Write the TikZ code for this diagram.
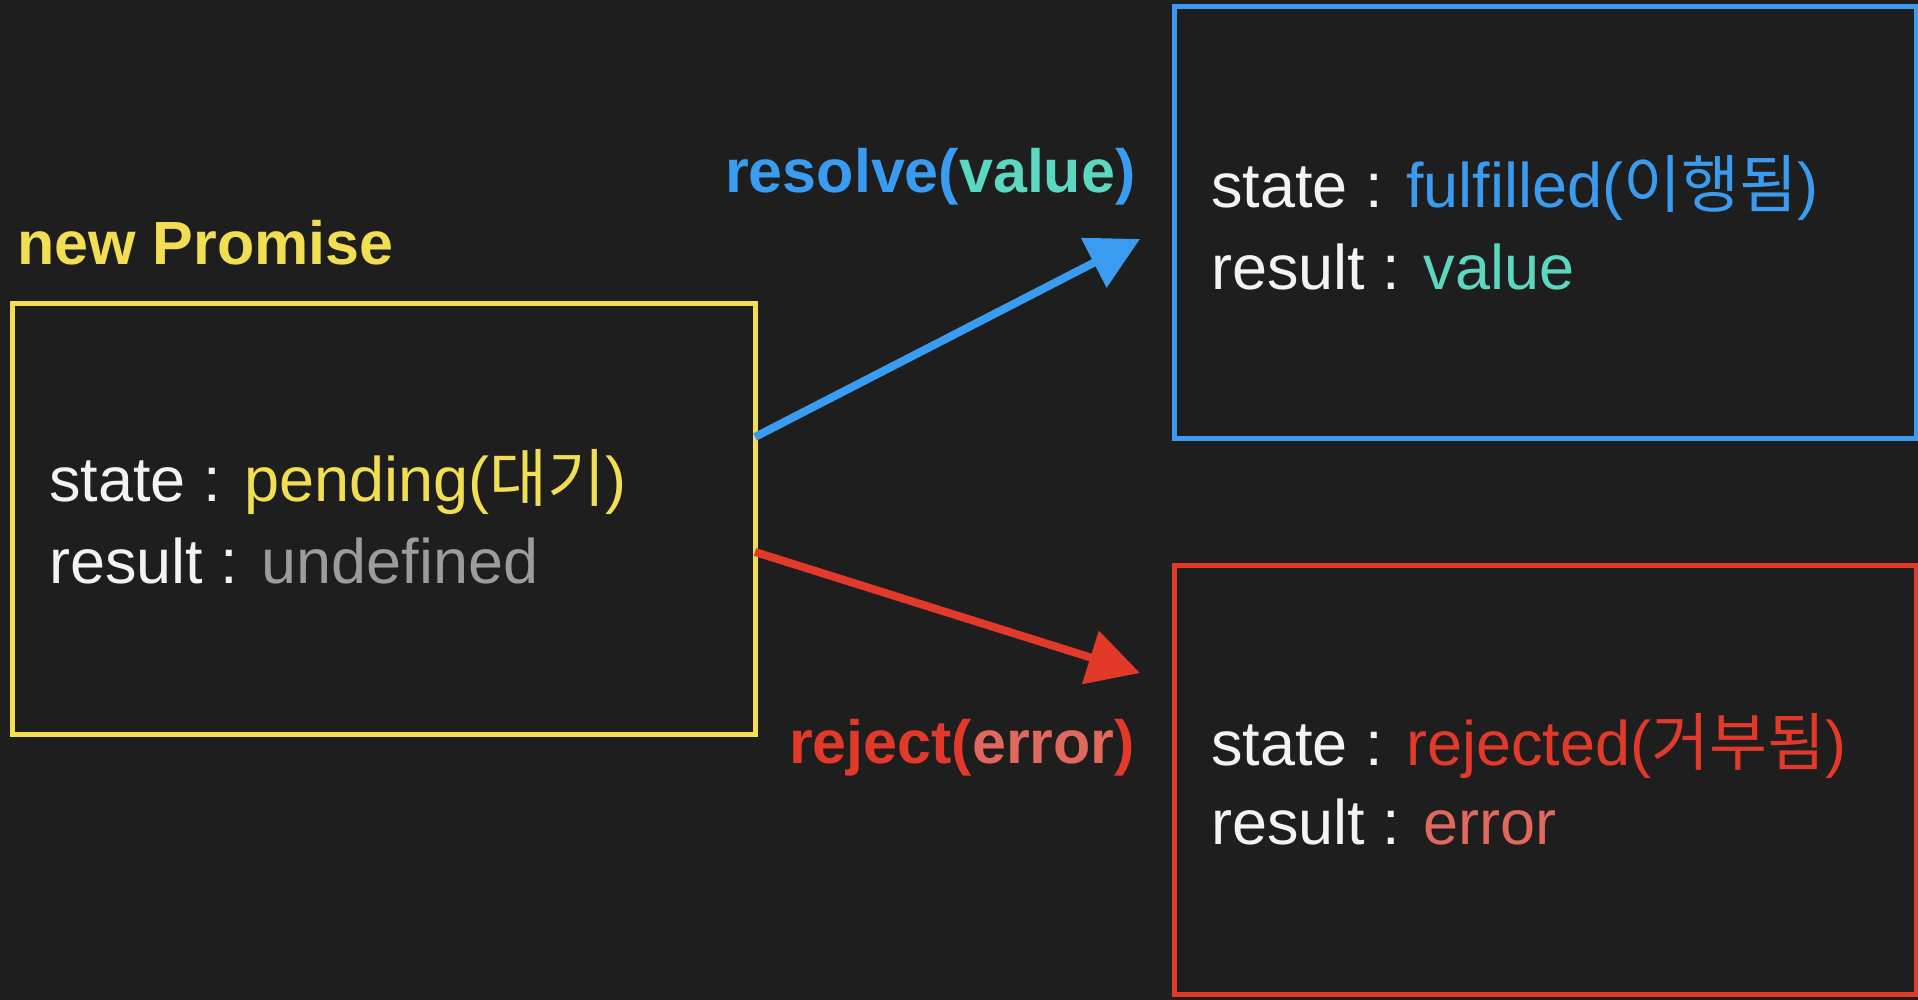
\documentclass[tikz,border=0pt]{standalone}
\usepackage{fontspec}
\setmainfont{Liberation Sans}
\newfontfamily\krfont{Noto Sans CJK KR}
\usetikzlibrary{arrows.meta}
\definecolor{bgc}{HTML}{1E1E1F}
\definecolor{ylw}{HTML}{F2DE52}
\definecolor{blu}{HTML}{3A9CF0}
\definecolor{teal}{HTML}{5BD8BF}
\definecolor{rd}{HTML}{E2392A}
\definecolor{rdl}{HTML}{E0685C}
\definecolor{gry}{HTML}{9C9C9C}
\definecolor{wht}{HTML}{F3F3F3}
\begin{document}
\begin{tikzpicture}[x=1pt,y=1pt,
  boxstyle/.style={draw, line width=5pt, rectangle, inner sep=0pt, outer sep=0pt},
  body/.style={anchor=base west, inner sep=0pt, text=wht, font=\fontsize{63}{70}\selectfont},
  title/.style={anchor=base west, inner sep=0pt, font=\bfseries\fontsize{61}{70}\selectfont},
  arrowline/.style={line width=8pt, -{Triangle[length=52pt,width=54pt]}}
]
\fill[bgc] (0,0) rectangle (1918,-1000);
\useasboundingbox (0,0) rectangle (1918,-1000);

% boxes
\node[boxstyle, draw=ylw, minimum width=743pt, minimum height=431pt] (pbox) at (383.5,-518.5) {};
\node[boxstyle, draw=blu, minimum width=742pt, minimum height=431pt] (fbox) at (1545,-222.5) {};
\node[boxstyle, draw=rd, minimum width=742pt, minimum height=429pt] (rbox) at (1545,-779.5) {};

% labels
\node[title, text=ylw] (np) at (17,-265) {new Promise};
\node[title, text=blu] (reslabel) at (725,-193) {resolve(\textcolor{teal}{value})};
\node[title, text=rd] (rejlabel) at (789,-763) {reject(\textcolor{rdl}{error})};

% pending box text
\node[body] (pstate) at (49,-501) {state : \textcolor{ylw}{pending({\krfont 대기})}};
\node[body] (presult) at (49,-583) {result : \textcolor{gry}{undefined}};

% fulfilled box text
\node[body] (fstate) at (1211,-208) {state : \textcolor{blu}{fulfilled({\krfont 이행됨})}};
\node[body] (fresult) at (1211,-289) {result : \textcolor{teal}{value}};

% rejected box text
\node[body] (rstate) at (1211,-765) {state : \textcolor{rd}{rejected({\krfont 거부됨})}};
\node[body] (rresult) at (1211,-844) {result : \textcolor{rdl}{error}};

% arrows
\coordinate (fend) at (1140,-239);
\coordinate (rend) at (1140,-673);
\draw[arrowline, draw=blu, fill=blu] ([yshift=81.5pt]pbox.east) -- (fend);
\draw[arrowline, draw=rd, fill=rd] ([yshift=-33.5pt]pbox.east) -- (rend);
\end{tikzpicture}
\end{document}
